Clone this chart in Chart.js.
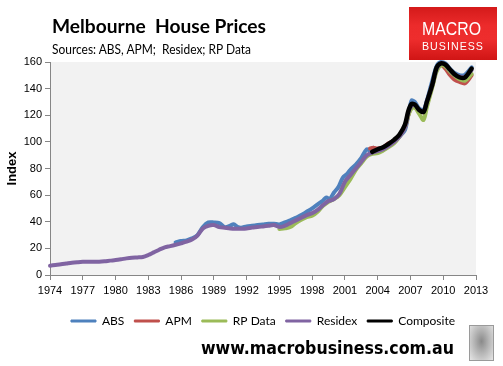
<!DOCTYPE html>
<html><head><meta charset="utf-8">
<script src="https://cdn.jsdelivr.net/npm/chart.js@4.4.0/dist/chart.umd.min.js"></script>
<style>
html,body{margin:0;padding:0;background:#fff;}
#wrap{position:relative;width:503px;height:366px;overflow:hidden;background:#fff;}
canvas{position:absolute;left:0;top:0;}
.t{position:absolute;white-space:nowrap;transform-origin:0 0;color:#000;line-height:1;}
#logo{position:absolute;left:409px;top:7px;width:88px;height:53px;
 background:linear-gradient(180deg,#d41a1a 0%,#ec2b2b 35%,#ee2d2d 60%,#d01515 100%);}
#logo .m{position:absolute;color:#fff;font-family:'Liberation Sans',Arial,sans-serif;white-space:nowrap;transform-origin:0 0;line-height:1;}
#wolf{position:absolute;left:469px;top:325px;width:23px;height:34px;border:1px solid #9a9a9a;
 background:radial-gradient(ellipse at 50% 45%,#8a8a8a 0%,#b5b5b5 45%,#e6e6e6 100%);}
</style></head><body>
<div id="wrap">
<canvas id="c" width="503" height="366"></canvas>
<div class="t" id="title" data-w="214" style="left:52px;top:14px;font:bold 19px Lato,sans-serif;">Melbourne&nbsp; House Prices</div>
<div class="t" id="sub" data-w="199" style="left:52px;top:41px;font:13px Lato,sans-serif;">Sources: ABS, APM;&nbsp; Residex; RP Data</div>
<div id="logo"><div class="m fit" data-w="59" style="left:13px;top:13px;font-size:18px;">MACRO</div><div class="m fit" data-w="62" style="left:12.5px;top:34px;font-size:10.5px;letter-spacing:1px;">BUSINESS</div></div>
<div class="t" id="foot" data-w="253" style="left:201px;top:337px;font:bold 18px 'DejaVu Sans',sans-serif;">www.macrobusiness.com.au</div>
<div id="wolf"></div>
</div>
<script>
// ---- data ----
const yearTicks = [1974,1977,1980,1983,1986,1989,1992,1995,1998,2001,2004,2007,2010,2013];
const indexTicks = [0,20,40,60,80,100,120,140,160];
const seriesNames = ['ABS','APM','RP Data','Residex','Composite'];

const absYears = [1985.5,1986,1986.5,1987,1987.5,1988,1988.5,1989,1989.5,1990,1990.5,1990.8,1991.2,1991.5,1992,1992.5,1993,1993.5,1994,1994.5,1995,1995.5,1996,1996.5,1997,1997.5,1998,1998.5,1999,1999.3,1999.6,2000,2000.4,2000.8,2001.2,2001.5,2002,2002.5,2003,2003.3,2003.6,2004,2004.5,2005,2005.5,2006,2006.5,2006.8,2007.1,2007.4,2007.8,2008.2,2008.5,2009,2009.4,2009.8,2010.2,2010.6,2011,2011.5,2012,2012.6];
const absValues = [24.5,25.5,26,27.5,30,36,39.5,39.5,39,36,37,38.2,36,35.5,36.5,37,37.5,38,38.5,38.5,38,39.5,41,43,45,47.5,50,53,56,58.3,57,62,66,73,76,79,83,88,94.5,93.5,95.5,93,94,97,100,104,109,120,131,130,125,124,131,146,157,160,159,155,152,150,150.5,156];

const apmYears = [2003.3,2003.6,2004,2004.5,2005,2005.5,2006,2006.5,2006.8,2007.1,2007.4,2007.8,2008.2,2008.5,2009,2009.4,2009.8,2010.2,2010.6,2011,2011.5,2012,2012.6];
const apmValues = [95,95.5,95,96,99,101,105,111,120,126,126,124,122,128,142,154,157.5,155,150.5,147,145,144,150];

const rpYears = [1995,1995.5,1996,1996.5,1997,1997.5,1998,1998.5,1999,1999.5,2000,2000.5,2001,2001.5,2002,2002.5,2003,2003.5,2004,2004.5,2005,2005.5,2006,2006.5,2006.8,2007.1,2007.4,2007.8,2008.2,2008.5,2009,2009.4,2009.8,2010.2,2010.6,2011,2011.5,2012,2012.6];
const rpValues = [34.5,35,36,39,41.5,43.5,44.5,47.5,52,55,57,60,66,72,79,84,89,91,91.5,93.5,96,99,104,111,120,125,126,121,116.5,126,141,153,157.5,156.5,153,150,147,146,151];

const residexYears = [1974,1974.5,1975,1975.5,1976,1976.5,1977,1978,1978.5,1979,1979.5,1980,1980.5,1981,1981.5,1982,1982.5,1983,1983.5,1984,1984.5,1985,1985.5,1986,1986.5,1987,1987.5,1988,1988.5,1989,1989.5,1990,1990.5,1991,1991.5,1992,1992.5,1993,1993.5,1994,1994.5,1995,1995.5,1996,1996.5,1997,1997.5,1998,1998.5,1999,1999.5,2000,2000.5,2001,2001.5,2002,2002.5,2003,2003.5,2004,2004.5,2005,2005.5,2006,2006.5,2006.8,2007.1,2007.4,2007.8,2008.2,2008.5,2009,2009.4,2009.8,2010.2,2010.6,2011,2011.5,2012,2012.6];
const residexValues = [7,7.5,8,8.6,9.2,9.6,9.9,10,10,10.3,10.8,11.2,11.8,12.5,13,13.2,13.5,15,17,19,20.8,21.7,22.7,23.8,25,26.6,29.6,35,37,37.5,36,35.5,35,34.8,34.8,35,35.6,36,36.5,37,37.5,36,37,39,41,43,45,46.5,49,52.5,55.5,57,61,70,75,80,85,90,92,93,94.5,97,100,104,111,122,127,128,124,123,130,143,155,159,158,154,151,149,149,154];

const compYears = [2003.5,2004,2004.5,2005,2005.5,2006,2006.5,2006.8,2007.1,2007.4,2007.8,2008.2,2008.5,2009,2009.4,2009.8,2010.2,2010.6,2011,2011.5,2012,2012.6];
const compValues = [92.5,94.5,96,98.5,101.5,105.5,113,123,128.5,128,124,122.5,130,143,156,159,158,154.5,151,148.5,148.5,155];

// ---- styling ----
const colors = ['#4F81BD','#C0504D','#9BBB59','#8064A2','#000000'];
const widths = [4,4,4,4,4.5];
const pts = (xs, ys) => xs.map((x, i) => ({x: x, y: ys[i]}));
const seriesData = [pts(absYears,absValues),pts(apmYears,apmValues),pts(rpYears,rpValues),pts(residexYears,residexValues),pts(compYears,compValues)];

const bgPlugin = {id:'bg', beforeDraw(chart){
  const a = chart.chartArea, c = chart.ctx;
  c.save(); c.fillStyle = '#F2F2F2'; c.fillRect(a.left, a.top, a.right - a.left, a.bottom - a.top); c.restore();
}};
const legendShift = {id:'legendShift', afterLayout(chart){
  const l = chart.legend; if (l) { l.left += 25; l.right += 25; }
}};

const axisColor = '#868686';
const tickFont = {family:"'Liberation Sans', Arial, sans-serif", size:11};
const baseLabels = Chart.defaults.plugins.legend.labels.generateLabels;

new Chart(document.getElementById('c'), {
  type:'line',
  data:{datasets: seriesNames.map((n, i) => ({
    label:n, data:seriesData[i], borderColor:colors[i], backgroundColor:colors[i],
    order:5 - i, borderWidth: widths[i], clip: 6
  }))},
  options:{
    responsive:false, animation:false, devicePixelRatio:1,
    elements:{point:{radius:0}, line:{tension:0.3, borderCapStyle:'round', borderJoinStyle:'round'}},
    layout:{padding:{left:0, right:27, top:62, bottom:29}},
    plugins:{
      legend:{position:'bottom', labels:{boxWidth:25, boxHeight:2, padding:10, color:'#000',
        font:{family:'Lato, sans-serif', size:12},
        generateLabels: chart => baseLabels(chart).map(l => Object.assign(l, {lineWidth:1, lineCap:'butt'})),
        sort:(a,b)=>a.datasetIndex-b.datasetIndex}},
      tooltip:{enabled:false}, title:{display:false}
    },
    scales:{
      x:{type:'linear', min:1974, max:2013,
        afterBuildTicks: s => { s.ticks = yearTicks.map(v => ({value:v})); },
        afterFit: s => { s.height = 30; },
        ticks:{callback: v => String(v), font:tickFont, color:'#000', padding:4, maxRotation:0, autoSkip:false},
        grid:{drawOnChartArea:false, drawTicks:true, tickLength:5, color:axisColor},
        border:{color:axisColor, width:1}},
      y:{min:0, max:160,
        afterBuildTicks: s => { s.ticks = indexTicks.map(v => ({value:v})); },
        afterFit: s => { s.width = 50; },
        ticks:{callback: v => String(v), font:tickFont, color:'#000', padding:3},
        grid:{drawOnChartArea:false, drawTicks:true, tickLength:5, color:axisColor},
        border:{color:axisColor, width:1},
        title:{display:true, text:'Index', color:'#000', font:{family:"'Liberation Sans', Arial, sans-serif", size:13, weight:'bold'}, padding:{top:5, bottom:0}}}
    }
  },
  plugins:[bgPlugin, legendShift]
});

// fit header/footer/logo text widths to the reference
document.querySelectorAll('[data-w]').forEach(el => {
  const w = el.getBoundingClientRect().width;
  const target = +el.dataset.w;
  if (w > 0) el.style.transform = 'scaleX(' + (target / w) + ')';
});
</script>
</body></html>
